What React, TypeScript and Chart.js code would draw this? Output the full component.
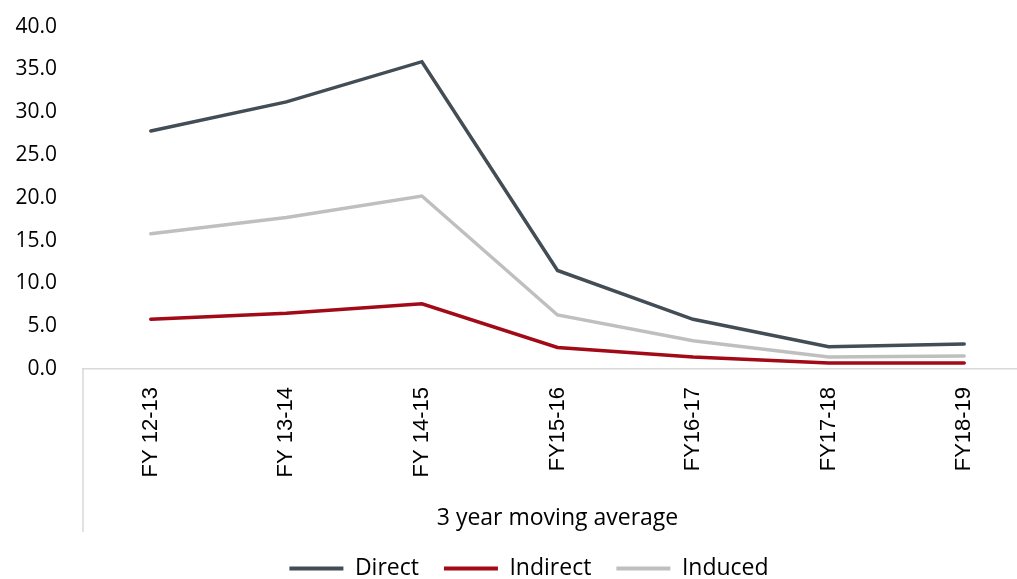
import React, { useEffect, useRef } from "react";
import { Chart, registerables } from "chart.js";

Chart.register(...registerables);

const categories = ["FY 12-13", "FY 13-14", "FY 14-15", "FY15-16", "FY16-17", "FY17-18", "FY18-19"];
const directValues = [27.8, 31.2, 35.9, 11.5, 5.8, 2.6, 2.9];
const indirectValues = [5.8, 6.5, 7.6, 2.5, 1.4, 0.7, 0.7];
const inducedValues = [15.8, 17.7, 20.2, 6.3, 3.3, 1.4, 1.5];
const groupLabel = "3 year moving average";
const yTicks = [0, 5, 10, 15, 20, 25, 30, 35, 40];

const groupLines = {
  id: "groupLines",
  afterLayout(chart: any) {
    if (chart.legend) {
      chart.legend.left += 13;
      chart.legend.right += 13;
    }
  },
  afterDraw(chart: any) {
    const { ctx, chartArea } = chart;
    const xs = chart.scales.x;
    const end = xs.bottom;
    ctx.save();
    ctx.strokeStyle = "#d9d9d9";
    ctx.lineWidth = 1.5;
    ctx.beginPath();
    ctx.moveTo(chartArea.left, chartArea.bottom);
    ctx.lineTo(chartArea.left, end);
    ctx.moveTo(chartArea.right, chartArea.bottom);
    ctx.lineTo(chartArea.right, end);
    ctx.stroke();
    ctx.restore();
  },
};

export default function App() {
  const ref = useRef<HTMLCanvasElement>(null);
  useEffect(() => {
    if (!ref.current) return;
    const mk = (label: string, data: number[], color: string) => ({
      label,
      data,
      borderColor: color,
      backgroundColor: color,
      borderWidth: 3.5,
      pointRadius: 0,
      tension: 0,
      borderCapStyle: "round" as const,
    });
    const chart = new Chart(ref.current, {
      type: "line",
      data: {
        labels: categories,
        datasets: [
          mk("Direct", directValues, "#434d56"),
          mk("Indirect", indirectValues, "#a10a16"),
          mk("Induced", inducedValues, "#bfbfbf"),
        ],
      },
      options: {
        animation: false,
        responsive: true,
        maintainAspectRatio: false,
        layout: { padding: { left: 0, right: 0, top: 2, bottom: 0 } },
        plugins: {
          tooltip: { enabled: false },
          legend: {
            position: "bottom",
            labels: {
              boxWidth: 54,
              boxHeight: 4,
              padding: 25,
              color: "#000",
              font: { family: "Open Sans", size: 23 },
              generateLabels(c: any) {
                return c.data.datasets.map((ds: any, i: number) => ({
                  text: ds.label,
                  fillStyle: ds.borderColor,
                  strokeStyle: ds.borderColor,
                  lineWidth: 0,
                  hidden: false,
                  datasetIndex: i,
                  fontColor: "#000",
                }));
              },
            },
          },
        },
        scales: {
          x: {
            type: "category",
            offset: true,
            grid: { display: false, drawTicks: false },
            border: { display: true, color: "#d9d9d9", width: 1.5 },
            ticks: {
              minRotation: 90,
              maxRotation: 90,
              padding: 18,
              color: "#000",
              font: { family: "Liberation Sans", size: 22 },
            },
            title: {
              display: true,
              text: groupLabel,
              color: "#000",
              font: { family: "Open Sans", size: 23 },
              padding: { top: 9, bottom: 0 },
            },
          },
          y: {
            min: 0,
            max: 40,
            grid: { display: false, drawTicks: false },
            border: { display: false },
            afterBuildTicks(s: any) {
              s.ticks = yTicks.map((v) => ({ value: v }));
            },
            afterFit(s: any) {
              s.width = 83;
            },
            ticks: {
              padding: 26,
              color: "#000",
              font: { family: "Open Sans", size: 21 },
              callback: (v: any) => Number(v).toFixed(1),
            },
          },
        },
      },
      plugins: [groupLines],
    });
    return () => chart.destroy();
  }, []);
  return (
    <div style={{ position: "fixed", left: 0, top: -12, width: 1032, height: 602 }}>
      <canvas ref={ref} />
    </div>
  );
}
